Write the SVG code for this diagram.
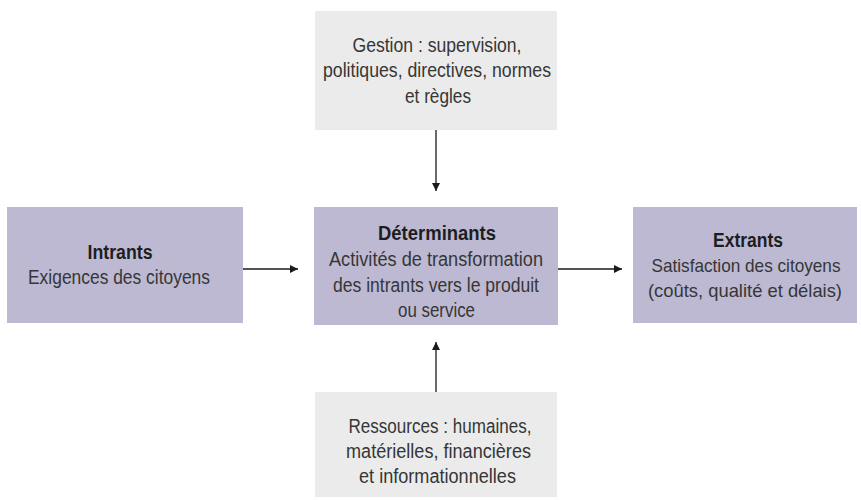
<svg xmlns="http://www.w3.org/2000/svg" width="861" height="500" viewBox="0 0 861 500">
  <defs>
    <marker id="arrow" viewBox="0 0 10 10" refX="10" refY="5" markerWidth="8" markerHeight="8" markerUnits="userSpaceOnUse" orient="auto">
      <path d="M0,0 L10,5 L0,10 Z" fill="#1a1a1a"/>
    </marker>
    <style>
      .main { fill: #bdb9d3; }
      .side { fill: #ebebeb; }
      text { font-family: "Liberation Sans", Arial, sans-serif; font-size: 20px; fill: #363636; text-anchor: middle; }
      .b { font-weight: bold; fill: #1e1e1e; }
      .s { font-size: 18.5px; }
      .conn { stroke: #1a1a1a; stroke-width: 1.3; fill: none; marker-end: url(#arrow); }
    </style>
  </defs>
  <rect width="861" height="500" fill="#fff"/>

  <g id="gestion">
    <rect class="side" x="315" y="11" width="242" height="119"/>
    <text x="437" y="51.5" textLength="169" lengthAdjust="spacingAndGlyphs">Gestion : supervision,</text>
    <text x="437" y="77" textLength="228" lengthAdjust="spacingAndGlyphs">politiques, directives, normes</text>
    <text x="438" y="102.5" textLength="66" lengthAdjust="spacingAndGlyphs">et règles</text>
  </g>

  <g id="intrants">
    <rect class="main" x="7" y="207" width="236" height="116"/>
    <text class="b" x="120" y="259" textLength="65" lengthAdjust="spacingAndGlyphs">Intrants</text>
    <text x="119" y="284" textLength="182" lengthAdjust="spacingAndGlyphs">Exigences des citoyens</text>
  </g>

  <g id="determinants">
    <rect class="main" x="314" y="207" width="244" height="118"/>
    <text class="b" x="437" y="240" textLength="118" lengthAdjust="spacingAndGlyphs">Déterminants</text>
    <text x="436" y="266" textLength="214" lengthAdjust="spacingAndGlyphs">Activités de transformation</text>
    <text x="436" y="292" textLength="206" lengthAdjust="spacingAndGlyphs">des intrants vers le produit</text>
    <text x="436.5" y="317" textLength="77" lengthAdjust="spacingAndGlyphs">ou service</text>
  </g>

  <g id="extrants">
    <rect class="main" x="633" y="207" width="224" height="116"/>
    <text class="b" x="748" y="247" textLength="70" lengthAdjust="spacingAndGlyphs">Extrants</text>
    <text class="s" x="746" y="272" textLength="189" lengthAdjust="spacingAndGlyphs">Satisfaction des citoyens</text>
    <text class="s" x="745" y="297" textLength="194" lengthAdjust="spacingAndGlyphs">(coûts, qualité et délais)</text>
  </g>

  <g id="ressources">
    <rect class="side" x="315" y="392" width="242" height="105"/>
    <text x="440" y="432.5" textLength="183" lengthAdjust="spacingAndGlyphs">Ressources : humaines,</text>
    <text x="438.5" y="457.5" textLength="185" lengthAdjust="spacingAndGlyphs">matérielles, financières</text>
    <text x="437.5" y="482.5" textLength="157" lengthAdjust="spacingAndGlyphs">et informationnelles</text>
  </g>

  <g id="connectors">
    <line class="conn" x1="436" y1="130" x2="436" y2="191"/>
    <line class="conn" x1="436" y1="392" x2="436" y2="342"/>
    <line class="conn" x1="243" y1="269" x2="298" y2="269"/>
    <line class="conn" x1="558" y1="269" x2="622" y2="269"/>
  </g>
</svg>
